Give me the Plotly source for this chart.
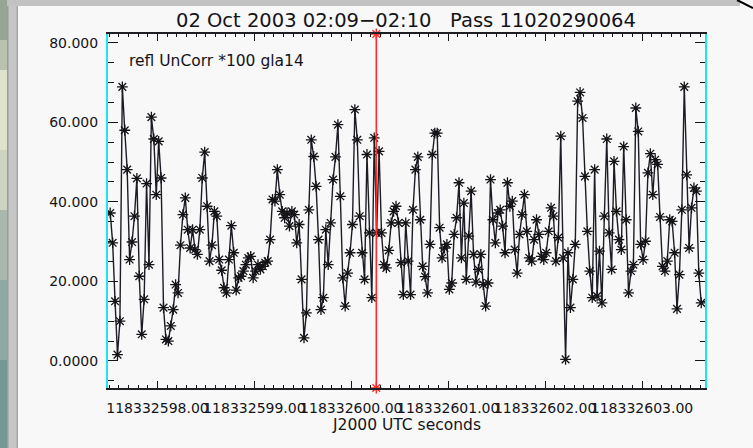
import numpy as np
import plotly.graph_objects as go

# ---------------- data ----------------
title_text = "02 Oct 2003 02:09\u221202:10   Pass 11020290064"
series_label = "refl UnCorr *100 gla14"
x_title = "J2000 UTC seconds"

t_start = 118332597.512      # first sample (J2000 UTC s)
t_end = 118332603.611        # last sample
marker_time = 118332600.258  # red cursor line

refl_part1 = [37.2, 29.7, 15.0, 1.6, 10.0, 68.9, 58.0, 48.1, 25.5, 29.9, 36.4, 45.9,
              21.3, 6.7, 15.5, 44.6, 24.2, 61.3, 55.8, 41.8, 55.2, 46.0, 13.4, 5.4,
              5.0, 8.8, 12.9, 19.2, 17.1, 29.1, 36.8, 41.0, 33.0, 28.4, 33.0, 28.0,
              26.8, 33.0, 46.0, 52.5, 38.9, 25.1, 29.1, 37.6, 36.4, 25.5, 22.8, 18.4,
              17.1, 25.5, 34.0, 27.2, 17.8, 20.9, 21.3, 22.6, 24.2, 25.9, 26.3, 20.9,
              22.6, 24.2]
refl_part2 = [23.0, 23.8, 24.7, 25.1, 30.5, 40.6, 40.2, 48.1, 41.8, 37.6, 36.0, 37.2,
              33.9, 37.6, 36.8, 29.7, 34.3, 20.5, 5.8, 12.1, 38.0, 55.6, 51.4, 43.9,
              30.5, 12.9, 15.9, 33.0, 24.2, 34.7, 45.6, 51.3, 59.4, 41.4, 20.9, 13.8,
              22.1, 27.2, 34.3, 63.2, 55.6, 36.4, 27.2, 20.5, 51.9, 32.2, 15.9, 56.1,
              32.2, 52.7, 32.2, 24.2, 23.4, 27.8, 34.7, 37.6, 38.9, 34.7, 24.7, 16.7]
refl_part3 = [34.7, 25.1, 16.7, 38.0, 48.1, 51.3, 35.5, 23.8, 21.2, 17.1, 29.3, 51.9,
              57.3, 57.3, 33.5, 25.9, 28.4, 29.3, 18.0, 19.6, 31.8, 36.0, 44.8, 25.9,
              39.7, 20.5, 31.4, 42.7, 26.8, 19.8, 23.0, 26.8, 19.2, 13.8, 19.6, 45.6,
              35.5, 29.7, 37.2, 38.0, 33.9, 27.2, 44.8, 38.9, 40.2, 28.0, 22.1, 31.8,
              36.8, 41.8, 32.6, 25.9, 25.1, 30.5, 35.5, 31.8, 26.3, 25.5, 27.2, 32.6,
              38.5, 36.4, 25.1, 31.0]
refl_part4 = [56.5, 25.9, 0.4, 27.2, 13.4, 20.5, 29.3, 65.3, 67.5, 61.1, 46.4, 32.6,
              22.6, 15.9, 48.1, 16.3, 27.6, 14.6, 36.4, 55.8, 32.2, 23.0, 50.2, 37.6,
              30.5, 28.0, 53.9, 35.5, 17.1, 22.6, 24.2, 63.6, 57.7, 29.3, 25.5, 30.1,
              47.3, 52.1, 41.8, 50.6, 49.4, 36.2, 23.8, 22.6, 25.1, 35.5, 35.1, 27.2,
              13.1, 21.7, 38.0, 68.9, 46.8, 28.4, 38.5, 43.5, 42.7, 22.1, 14.6]

x_range = [118332597.489, 118332603.65]
y_range = [-6.8, 82.2]
y_tick_vals = [0, 20, 40, 60, 80]
y_tick_text = ["0.0000", "20.000", "40.000", "60.000", "80.000"]

refl = refl_part1 + refl_part2 + refl_part3 + refl_part4
times = np.linspace(t_start, t_end, len(refl))

# ---------------- layout geometry ----------------
W, H = 753, 448
ML, MR, MT, MB = 108, 48, 34, 60
PW, PH = W - ML - MR, H - MT - MB


def px(x):
    return (x - ML) / PW


def py(y):
    return (H - MB - y) / PH


BG = "#f8f8f8"
INK = "#141418"
FONT = "DejaVu Sans"

fig = go.Figure()

fig.add_trace(go.Scatter(
    x=times, y=refl, mode="lines+markers",
    line=dict(color="#1c1c26", width=1.4),
    marker=dict(symbol="asterisk-open", size=9,
                line=dict(color=INK, width=1.3), color=INK),
    showlegend=False, hoverinfo="skip",
))

fig.add_trace(go.Scatter(
    x=[marker_time, marker_time], y=y_range, mode="lines+markers",
    line=dict(color="#ff2a2a", width=1.6),
    marker=dict(symbol="asterisk-open", size=9,
                line=dict(color="#ff2a2a", width=1.4)),
    cliponaxis=False, showlegend=False, hoverinfo="skip",
))

shapes = []
# left photo strip
photo = [(0, 40, "#97a595"), (40, 70, "#b9c2ad"), (70, 150, "#dfe3cb"),
         (150, 210, "#cdd4c2"), (210, 280, "#a9b7ac"), (280, 360, "#8ea8a4"),
         (360, 448, "#769894")]
for y0, y1, c in photo:
    shapes.append(dict(type="rect", xref="paper", yref="paper",
                       x0=px(0), x1=px(7), y0=py(y1), y1=py(y0),
                       fillcolor=c, line=dict(width=0), layer="below"))
# window frame
shapes.append(dict(type="rect", xref="paper", yref="paper",
                   x0=px(7), x1=px(18), y0=py(448), y1=py(0),
                   fillcolor="#c6c6c6", line=dict(width=0), layer="below"))
shapes.append(dict(type="rect", xref="paper", yref="paper",
                   x0=px(7), x1=px(8.5), y0=py(448), y1=py(0),
                   fillcolor="#9c9c9c", line=dict(width=0), layer="below"))
shapes.append(dict(type="rect", xref="paper", yref="paper",
                   x0=px(16.5), x1=px(18), y0=py(448), y1=py(6),
                   fillcolor="#a8a8a8", line=dict(width=0), layer="below"))
shapes.append(dict(type="rect", xref="paper", yref="paper",
                   x0=px(7), x1=px(740), y0=py(6), y1=py(0),
                   fillcolor="#c2c2c2", line=dict(width=0), layer="below"))
shapes.append(dict(type="line", xref="paper", yref="paper",
                   x0=px(737), x1=px(753), y0=py(0), y1=py(8),
                   line=dict(color="#000000", width=2)))

annotations = [
    dict(text=title_text, xref="paper", yref="paper", x=px(406), y=py(20),
         xanchor="center", yanchor="middle", showarrow=False,
         font=dict(family=FONT, size=19.5, color=INK)),
    dict(text=series_label, xref="paper", yref="paper", x=px(127), y=py(61),
         xanchor="left", yanchor="middle", showarrow=False,
         font=dict(family=FONT, size=15.5, color=INK)),
    dict(text=x_title, xref="paper", yref="paper", x=px(406), y=py(425),
         xanchor="center", yanchor="middle", showarrow=False,
         font=dict(family=FONT, size=15.5, color=INK)),
]

fig.update_layout(
    width=W, height=H,
    margin=dict(l=ML, r=MR, t=MT, b=MB, pad=0),
    paper_bgcolor=BG, plot_bgcolor=BG,
    shapes=shapes, annotations=annotations,
    font=dict(family=FONT, size=14, color=INK),
)

fig.update_xaxes(
    range=x_range, showgrid=False, zeroline=False,
    tickmode="linear", tick0=118332598.0, dtick=1.0, tickformat=".2f",
    tickangle=0,
    ticks="inside", ticklen=7, tickwidth=1.3, tickcolor=INK,
    showline=True, linecolor="#202024", linewidth=1.5, mirror="ticks",
    tickfont=dict(family=FONT, size=14, color=INK),
    ticklabelstandoff=6,
    minor=dict(tickmode="linear", tick0=118332598.0, dtick=0.1,
               ticks="inside", ticklen=3.5, tickwidth=1.2, tickcolor=INK,
               showgrid=False),
)
fig.update_yaxes(
    range=y_range, showgrid=False, zeroline=False,
    tickmode="array", tickvals=y_tick_vals, ticktext=y_tick_text,
    ticks="inside", ticklen=10, tickwidth=1.3, tickcolor=INK,
    showline=True, linecolor="#19e6ee", linewidth=2, mirror="ticks",
    tickfont=dict(family=FONT, size=14, color=INK),
    ticklabelstandoff=5,
    minor=dict(tickmode="linear", tick0=0, dtick=5,
               ticks="inside", ticklen=5.5, tickwidth=1.2, tickcolor=INK,
               showgrid=False),
)

fig.write_html("out.html")
